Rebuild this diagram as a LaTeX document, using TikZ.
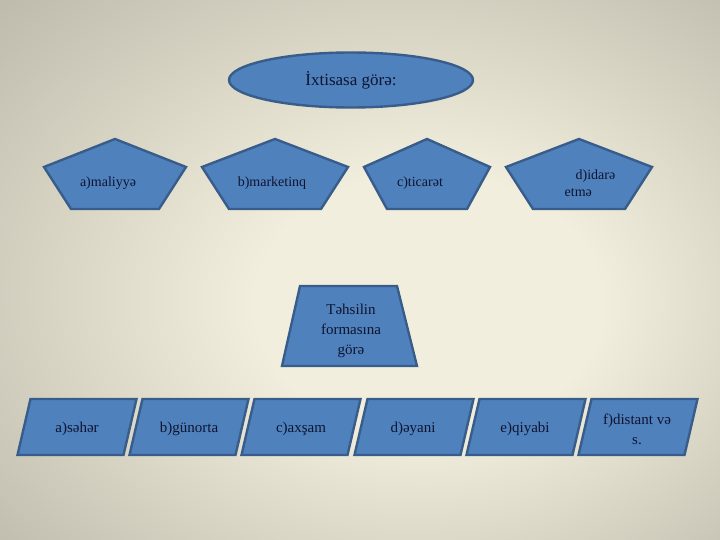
\documentclass[tikz,border=0pt]{standalone}
\usepackage{fontspec}
\setmainfont{Liberation Serif}
\usetikzlibrary{shapes.geometric,positioning}

\definecolor{boxfill}{RGB}{79,129,189}
\definecolor{boxline}{RGB}{56,93,138}
\definecolor{ink}{RGB}{14,20,48}
\definecolor{bgin}{RGB}{242,238,221}
\definecolor{bgout}{RGB}{150,147,134}
\pgfdeclareradialshading{bgglow}{\pgfpoint{6bp}{-4bp}}{color(0bp)=(bgin); color(12bp)=(bgin); color(58bp)=(bgout)}

\tikzset{
  shapebox/.style={draw=boxline, fill=boxfill, line width=2.4pt, line join=miter},
  boxtext/.style={text=ink, align=center, inner sep=0pt, font=\fontsize{14}{17}\selectfont},
  rowtext/.style={boxtext, font=\fontsize{15}{20}\selectfont},
}

\begin{document}
\begin{tikzpicture}[x=1pt,y=-1pt]
\useasboundingbox (0,0) rectangle (720,540);
\shade[shading=bgglow] (0,0) rectangle (720,540);

% top: ellipse
\node[shapebox, ellipse, minimum width=244pt, minimum height=55pt, boxtext,
  font=\fontsize{17}{20}\selectfont] (spec) at (351,80) {İxtisasa görə:};

% pentagons
\foreach \i/\cx/\hw/\hb in {1/115/71/44, 2/275/73/46, 3/427/63/40, 4/579/73/46}
  \draw[shapebox] (\cx,139) -- (\cx+\hw,167) -- (\cx+\hb,209) -- (\cx-\hb,209)
    -- (\cx-\hw,167) -- cycle;
\node[boxtext] (fin) at (108,183) {a)maliyyə};
\node[boxtext] (mkt) at (272,183) {b)marketinq};
\node[boxtext] (trd) at (420,183) {c)ticarət};
\node[boxtext, align=left] (mgt) at (590,183) {\hspace*{11pt}d)idarə\\etmə};

% middle: trapezoid
\draw[shapebox] (300,286) -- (397,286) -- (417,366) -- (282,366) -- cycle;
\node[rowtext] (form) at (351,331) {Təhsilin\\formasına\\görə};

% bottom row
\foreach \cx in {77,189,301,414,526,638}
  \draw[shapebox] (\cx-46.5,399) -- (\cx+59.5,399) -- (\cx+46.5,455)
    -- (\cx-59.5,455) -- cycle;
\node[rowtext] (morn) at (77,429) {a)səhər};
\node[rowtext, right=112pt of morn.center, anchor=center] (noon) {b)günorta};
\node[rowtext, right=112pt of noon.center, anchor=center] (eve) {c)axşam};
\node[rowtext, right=112pt of eve.center, anchor=center] (full) {d)əyani};
\node[rowtext, right=112pt of full.center, anchor=center] (part) {e)qiyabi};
\node[rowtext, right=112pt of part.center, anchor=center] (dist) {f)distant və\\s.};
\end{tikzpicture}
\end{document}
